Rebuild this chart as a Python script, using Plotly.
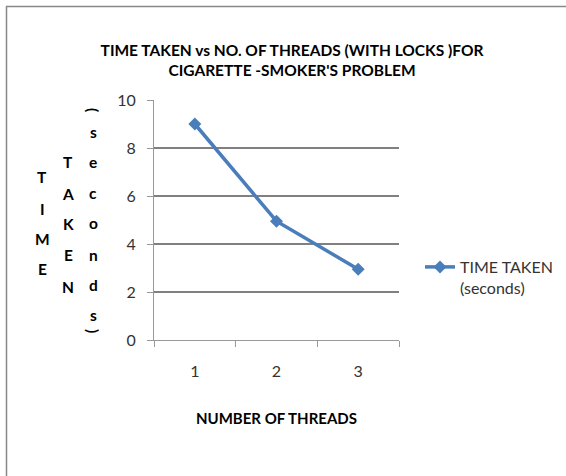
import plotly.graph_objects as go

# ---- data ----
threads = ["1", "2", "3"]
time_taken = [9.0, 4.95, 2.95]
series_name = "TIME TAKEN<br>(seconds)"
title_text = "TIME TAKEN vs NO. OF THREADS (WITH LOCKS )FOR<br>CIGARETTE -SMOKER'S PROBLEM"
x_title = "NUMBER OF THREADS"
y_tick_vals = [0, 2, 4, 6, 8, 10]

W, H = 566, 476
L, R, T, B = 154, 399, 100, 340
FONT = "Lato"


def px(x):
    return (x - L) / (R - L)


def py(y):
    return (B - y) / (B - T)


fig = go.Figure()
fig.add_trace(go.Scatter(
    x=threads, y=time_taken, name=series_name, mode="lines+markers",
    line=dict(color="#4A7EBB", width=3.5),
    marker=dict(symbol="diamond", size=10, color="#4A7EBB"),
    showlegend=True,
))

# vertical y-axis label, letter by letter (three columns)
cols = [
    (42, [("T", 177), ("I", 209), ("M", 239), ("E", 269)]),
    (68, [("T", 162), ("A", 194), ("K", 224), ("E", 255), ("N", 287)]),
    (93, [("(", 110), ("s", 132), ("e", 162), ("c", 193), ("o", 223),
          ("n", 255), ("d", 285), ("s", 315), (")", 331)]),
]
annotations = []
for cx, letters in cols:
    for ch, cy in letters:
        annotations.append(dict(
            text=f"<b>{ch}</b>", x=px(cx), y=py(cy), xref="paper", yref="paper",
            showarrow=False, xanchor="center", yanchor="middle",
            textangle=90 if ch in "()" else 0,
            font=dict(family=FONT, size=15.5, color="#000000"),
        ))

fig.update_layout(
    width=W, height=H,
    margin=dict(l=L, r=W - R, t=T, b=H - B, pad=0, autoexpand=False),
    paper_bgcolor="white", plot_bgcolor="white",
    title=dict(text=f"<b>{title_text}</b>", x=px(292), xref="paper", xanchor="center",
               y=1 - 55.5 / H, yref="container", yanchor="middle",
               font=dict(family=FONT, size=15.5, color="#000000")),
    xaxis=dict(type="category", range=[-0.5, 2.5], tickson="boundaries",
               ticks="outside", ticklen=6,
               tickcolor="#999999", showline=True, linecolor="#999999", linewidth=1,
               showgrid=False, zeroline=False,
               tickfont=dict(family=FONT, size=16, color="#333333"),
               ticklabelstandoff=17,
               title=dict(text=f"<b>{x_title}</b>", standoff=34,
                          font=dict(family=FONT, size=15, color="#000000"))),
    yaxis=dict(range=[0, 10], tickvals=y_tick_vals, ticks="outside", ticklen=6,
               tickcolor="#999999", showline=True, linecolor="#999999", linewidth=1,
               showgrid=True, gridcolor="#808080", gridwidth=1.5, zeroline=False,
               tickfont=dict(family=FONT, size=16, color="#333333"),
               ticklabelstandoff=8),
    legend=dict(x=px(420), xanchor="left", y=py(250), yanchor="top",
                valign="top", bgcolor="rgba(0,0,0,0)",
                font=dict(family=FONT, size=16, color="#333333")),
    annotations=annotations,
    shapes=[dict(type="rect", xref="paper", yref="paper",
                 x0=px(6.5), x1=px(600), y0=py(520), y1=py(6.5),
                 line=dict(color="#888888", width=1.5), layer="below")],
)

fig.write_html("out.html")
